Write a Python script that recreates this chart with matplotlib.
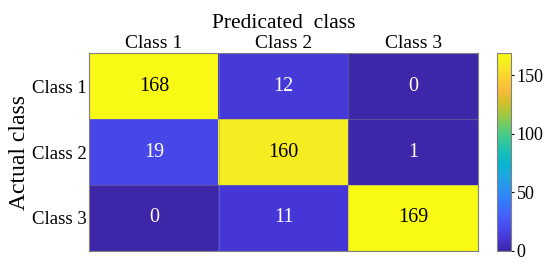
import numpy as np
import matplotlib.pyplot as plt
from matplotlib.colors import LinearSegmentedColormap

plt.rcParams['font.family'] = ['Liberation Serif', 'DejaVu Serif']

classes = ["Class 1", "Class 2", "Class 3"]
cm = np.array([[168, 12, 0],
               [19, 160, 1],
               [0, 11, 169]])
cbar_ticks = [0, 50, 100, 150]

# MATLAB parula (old), every 4th entry of the 64-colour table
parula = LinearSegmentedColormap.from_list("parula", [
    (0.2422, 0.1504, 0.6603), (0.2706, 0.2147, 0.8364),
    (0.2813, 0.3006, 0.9414), (0.2699, 0.3892, 0.9906),
    (0.1963, 0.4847, 0.9892), (0.1687, 0.5703, 0.9359),
    (0.1248, 0.6459, 0.8883), (0.0297, 0.7082, 0.8163),
    (0.0964, 0.7500, 0.7120), (0.2161, 0.7843, 0.5923),
    (0.3909, 0.8029, 0.4354), (0.6174, 0.7876, 0.2612),
    (0.8203, 0.7498, 0.1535), (0.9728, 0.7298, 0.2394),
    (0.9892, 0.8136, 0.1885), (0.9597, 0.9135, 0.1423),
    (0.9769, 0.9839, 0.0805),
])

fig = plt.figure(figsize=(5.5, 2.63), dpi=100)
ax = fig.add_axes([0.162, 0.046, 0.707, 0.752])
cax = fig.add_axes([0.904, 0.046, 0.025, 0.752])

im = ax.imshow(cm, cmap=parula, vmin=0, vmax=cm.max(), aspect="auto")
for i in range(3):
    for j in range(3):
        c = "black" if cm[i, j] > 100 else "white"
        ax.text(j, i, str(cm[i, j]), ha="center", va="center", fontsize=14.5, color=c)

ax.set_xticks(range(3))
ax.set_xticklabels(classes, fontsize=14)
ax.set_yticks(range(3))
ax.set_yticklabels(classes, fontsize=13.5)
ax.set_xticks(np.arange(-0.5, 3, 1), minor=True)
ax.set_yticks(np.arange(-0.5, 3, 1), minor=True)
ax.grid(which="minor", color="0.55", lw=0.8, alpha=0.4)
ax.xaxis.tick_top()
ax.xaxis.set_label_position("top")
ax.tick_params(which="both", length=0)
ax.tick_params(axis="x", pad=1)
ax.tick_params(axis="y", pad=2)
ax.set_xlabel("Predicated  class", fontsize=15.5, labelpad=5)
ax.set_ylabel("Actual class", fontsize=17, labelpad=1)
for s in ax.spines.values():
    s.set_color("0.5")
    s.set_linewidth(0.8)

cb = fig.colorbar(im, cax=cax, ticks=cbar_ticks)
cb.ax.tick_params(labelsize=13, length=2, pad=2)
cb.outline.set_edgecolor("0.5")
cb.outline.set_linewidth(0.8)

fig.savefig("out.png", dpi=100)
